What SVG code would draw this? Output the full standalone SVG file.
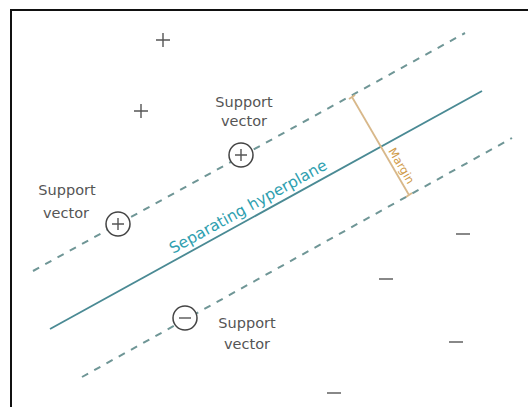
<svg xmlns="http://www.w3.org/2000/svg" width="528" height="407" viewBox="0 0 528 407">
<style>
.lbl{font-family:"DejaVu Sans",sans-serif;font-size:14.5px;fill:#555;text-anchor:middle}
.dash{stroke:#6f9696;stroke-width:2;stroke-dasharray:7 7;fill:none}
.mark{stroke:#555;stroke-width:1.4;fill:none}
.sv{stroke:#444;stroke-width:1.5;fill:#fff}
</style>
<rect width="528" height="407" fill="#fff"/>
<path d="M11,407 V10 H528" fill="none" stroke="#111" stroke-width="2"/>
<g id="connectors">
<line id="upper-margin" class="dash" x1="33" y1="271" x2="465" y2="33"/>
<line id="lower-margin" class="dash" x1="82" y1="377" x2="512" y2="138"/>
<line id="hyperplane" x1="50" y1="329" x2="482" y2="91" stroke="#4a8a94" stroke-width="1.8"/>
<g id="margin" stroke="#d8b88a" stroke-width="1.8">
<line x1="352" y1="97" x2="409" y2="195"/>
<line x1="349" y1="99" x2="355" y2="95"/>
<line x1="406" y1="197" x2="412" y2="193"/>
</g>
</g>
<text id="hyperplane-label" x="173" y="254" transform="rotate(-28.85 173 254)" font-family="DejaVu Sans,sans-serif" font-size="15.5" fill="#2f9fb0">Separating hyperplane</text>
<text id="margin-label" x="401" y="166" transform="rotate(59.5 401 166)" font-family="DejaVu Sans,sans-serif" font-size="11.5" fill="#d09a48" text-anchor="middle" dominant-baseline="middle">Margin</text>
<g id="pos1"><path class="mark" d="M156,40 H170 M163,33 V47"/></g>
<g id="pos2"><path class="mark" d="M134,111 H148 M141,104 V118"/></g>
<g id="neg1"><path class="mark" d="M456,234 H470"/></g>
<g id="neg2"><path class="mark" d="M379,279 H393"/></g>
<g id="neg3"><path class="mark" d="M449,342 H463"/></g>
<g id="neg4"><path class="mark" d="M327,393 H341"/></g>
<g id="sv-top">
<circle class="sv" cx="241" cy="155" r="12"/>
<path class="mark" d="M235,155 H247 M241,149 V161"/>
<text class="lbl" x="244" y="107">Support</text>
<text class="lbl" x="244" y="126">vector</text>
</g>
<g id="sv-left">
<circle class="sv" cx="118" cy="224" r="12"/>
<path class="mark" d="M112,224 H124 M118,218 V230"/>
<text class="lbl" x="67" y="195">Support</text>
<text class="lbl" x="66" y="218">vector</text>
</g>
<g id="sv-bottom">
<circle class="sv" cx="185" cy="318" r="12"/>
<path class="mark" d="M179,318 H191"/>
<text class="lbl" x="247" y="328">Support</text>
<text class="lbl" x="247" y="349">vector</text>
</g>
</svg>
